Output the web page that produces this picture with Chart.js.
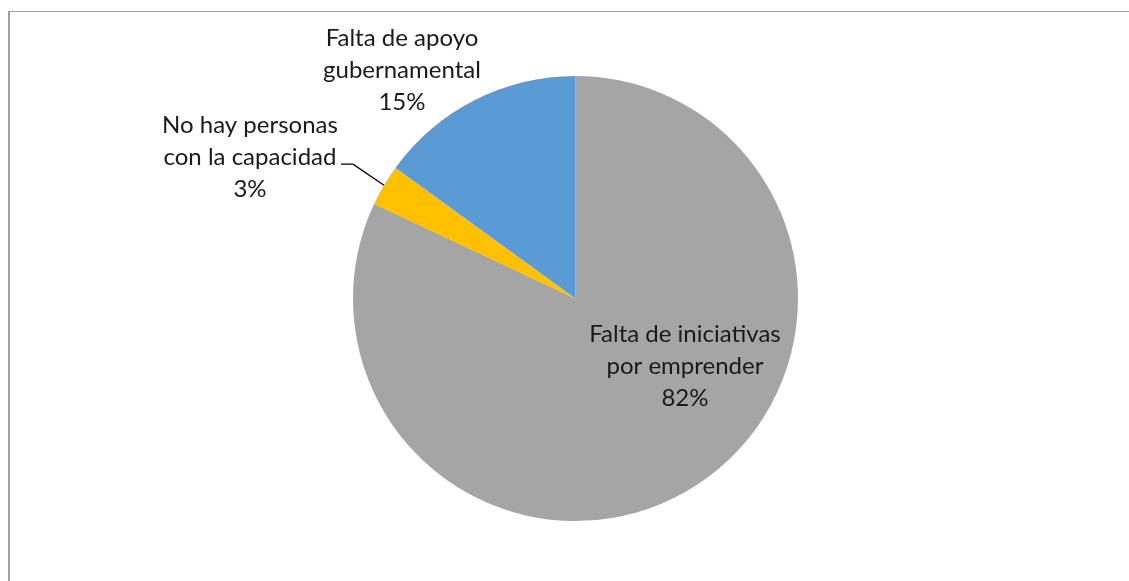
<!DOCTYPE html>
<html>
<head>
<meta charset="utf-8">
<script src="https://cdn.jsdelivr.net/npm/chart.js@4/dist/chart.umd.min.js"></script>
<style>
html,body{margin:0;padding:0;background:#fff;}
#wrap{width:1129px;height:581px;position:relative;}
</style>
</head>
<body>
<div id="wrap"><canvas id="c" width="1129" height="581"></canvas></div>
<script>
const categories = ["Falta de iniciativas por emprender", "No hay personas con la capacidad", "Falta de apoyo gubernamental"];
const labelLines = [["Falta de iniciativas", "por emprender"], ["No hay personas", "con la capacidad"], ["Falta de apoyo", "gubernamental"]];
const values = [82, 3, 15];
const colors = ["#A5A5A5", "#FFC000", "#5B9BD5"];

const FONT = '24px Lato, "Open Sans", sans-serif';
const LINE_H = 32;

const framePlugin = {
  id: 'frame',
  beforeDraw(chart) {
    const ctx = chart.ctx;
    ctx.save();
    ctx.fillStyle = '#a0a0a0';
    ctx.fillRect(8, 11, 2, chart.height - 11);
    ctx.fillRect(8, 11, chart.width - 8, 1);
    ctx.restore();
  }
};

const labelPlugin = {
  id: 'pieLabels',
  afterDatasetsDraw(chart) {
    const ctx = chart.ctx;
    const meta = chart.getDatasetMeta(0);
    const total = values.reduce((a, b) => a + b, 0);
    ctx.save();
    ctx.font = FONT;
    ctx.fillStyle = '#1a1a1a';
    ctx.textAlign = 'center';
    ctx.textBaseline = 'middle';
    meta.data.forEach((arc, i) => {
      const p = arc.getProps(['x', 'y', 'startAngle', 'endAngle', 'outerRadius'], true);
      const mid = (p.startAngle + p.endAngle) / 2;
      const R = p.outerRadius;
      const pct = Math.round(values[i] / total * 100) + '%';
      const lines = labelLines[i].concat([pct]);
      let cx, cy;
      if (i === 0) {
        cx = p.x + R * 0.492; cy = p.y + R * 0.303;
      } else if (i === 1) {
        cx = p.x - R * 1.463; cy = p.y - R * 0.636;
        // leader line
        const ex = p.x + Math.cos(mid) * R, ey = p.y + Math.sin(mid) * R;
        ctx.strokeStyle = '#000';
        ctx.lineWidth = 1.3;
        ctx.beginPath();
        ctx.moveTo(p.x - R * 1.054, p.y - R * 0.604);
        ctx.lineTo(p.x - R * 1.0, p.y - R * 0.604);
        ctx.lineTo(ex, ey);
        ctx.stroke();
      } else {
        cx = p.x - R * 0.78; cy = p.y - R * 1.027;
      }
      const n = lines.length;
      lines.forEach((t, k) => {
        ctx.fillText(t, cx, cy + (k - (n - 1) / 2) * LINE_H);
      });
    });
    ctx.restore();
  }
};

new Chart(document.getElementById('c'), {
  type: 'pie',
  data: {
    labels: categories,
    datasets: [{
      data: values,
      backgroundColor: colors,
      borderWidth: 0
    }]
  },
  options: {
    responsive: false,
    animation: false,
    layout: { padding: { top: 76, bottom: 60, left: 22, right: 0 } },
    plugins: { legend: { display: false }, tooltip: { enabled: false } }
  },
  plugins: [framePlugin, labelPlugin]
});
</script>
</body>
</html>
